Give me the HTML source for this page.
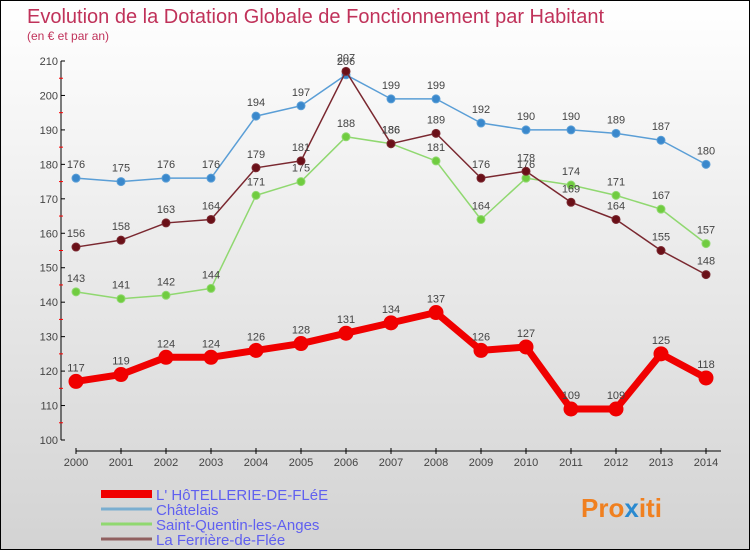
<!DOCTYPE html>
<html><head><meta charset="utf-8"><style>
body{margin:0}
#c{width:750px;height:550px;position:relative;box-sizing:border-box;border:1px solid #000;background:linear-gradient(#ffffff,#d3d3d3);font-family:"Liberation Sans",sans-serif;overflow:hidden}
</style></head><body>
<div id="c">
<svg id="s" width="748" height="548" xmlns="http://www.w3.org/2000/svg">
<text x="26" y="22" font-size="20" fill="#c0325a">Evolution de la Dotation Globale de Fonctionnement par Habitant</text>
<text x="26" y="39" font-size="12" fill="#c0325a">(en € et par an)</text>
<g id="axes"></g><g id="series"></g><g id="legend"></g>
<text x="580" y="516" font-size="26" font-weight="bold" fill="#f08020">Pro<tspan fill="#2a8ad0">x</tspan>iti</text>
</svg>
</div>
<script>
const years=[2000,2001,2002,2003,2004,2005,2006,2007,2008,2009,2010,2011,2012,2013,2014];
const yTicks=[100,110,120,130,140,150,160,170,180,190,200,210];
const hotellerie=[117,119,124,124,126,128,131,134,137,126,127,109,109,125,118];
const chatelais=[176,175,176,176,194,197,206,199,199,192,190,190,189,187,180];
const saintQuentin=[143,141,142,144,171,175,188,186,181,164,176,174,171,167,157];
const ferriere=[156,158,163,164,179,181,207,186,189,176,178,169,164,155,148];
const NS="http://www.w3.org/2000/svg";
function X(i){return 75+45*i;}
function Y(v){return 439-(v-100)*379/110;}
function mk(t,a,p){const e=document.createElementNS(NS,t);for(const k in a)e.setAttribute(k,a[k]);p.appendChild(e);return e;}
const ax=document.getElementById('axes');
let l=mk('line',{x1:60,y1:Y(210),x2:60,y2:Y(100),stroke:'#000'},ax);

yTicks.forEach(v=>{mk('line',{x1:60,y1:Y(v),x2:64,y2:Y(v),stroke:'#000'},ax);
 if(v<210)mk('line',{x1:58,y1:Y(v+5),x2:62,y2:Y(v+5),stroke:'#f00'},ax);
 const t=mk('text',{x:57,y:Y(v)+4,'text-anchor':'end','font-size':11,fill:'#444'},ax);t.textContent=v;
 });
l=mk('line',{x1:75,y1:450,x2:720,y2:450,stroke:'#000'},ax);

years.forEach((y,i)=>{mk('line',{x1:X(i),y1:447,x2:X(i),y2:453,stroke:'#000'},ax);
 const t=mk('text',{x:X(i),y:465,'text-anchor':'middle','font-size':11,fill:'#444'},ax);t.textContent=y;
 });
const sg=document.getElementById('series');
function series(data,color,w,r,name,dot){
 const g=mk('g',{},sg);
 mk('polyline',{points:data.map((v,i)=>X(i)+','+Y(v)).join(' '),fill:'none',stroke:color,'stroke-width':w,'stroke-linejoin':'round'},g);
 data.forEach((v,i)=>{const c=mk('circle',{cx:X(i),cy:Y(v),r:r,fill:dot,stroke:color},g);
  
  const t=mk('text',{x:X(i),y:Y(v)-10,'text-anchor':'middle','font-size':11,fill:'#444'},g);t.textContent=v;
  });
}
series(chatelais,'#5a9ed6',1.5,4,'series-chatelais','#3a88cc');
series(saintQuentin,'#90d870',1.5,4,'series-saint-quentin','#70cc40');
series(ferriere,'#7a2830',1.5,4,'series-ferriere','#6a1018');
series(hotellerie,'#f00000',7,7,'series-hotellerie','#f00000');
const lg=document.getElementById('legend');
const leg=[['L\' HôTELLERIE-DE-FLéE','#f00000',8],['Châtelais','#7aaed0',3],['Saint-Quentin-les-Anges','#90d870',3],['La Ferrière-de-Flée','#906060',3]];
leg.forEach((e,i)=>{const y=493+i*15;
 const g=mk('g',{},lg);
 mk('line',{x1:100,y1:y,x2:151,y2:y,stroke:e[1],'stroke-width':e[2]},g);
 const t=mk('text',{x:155,y:y+6,'font-size':15,fill:'#6060f0'},g);t.textContent=e[0];});
</script>
</body></html>
